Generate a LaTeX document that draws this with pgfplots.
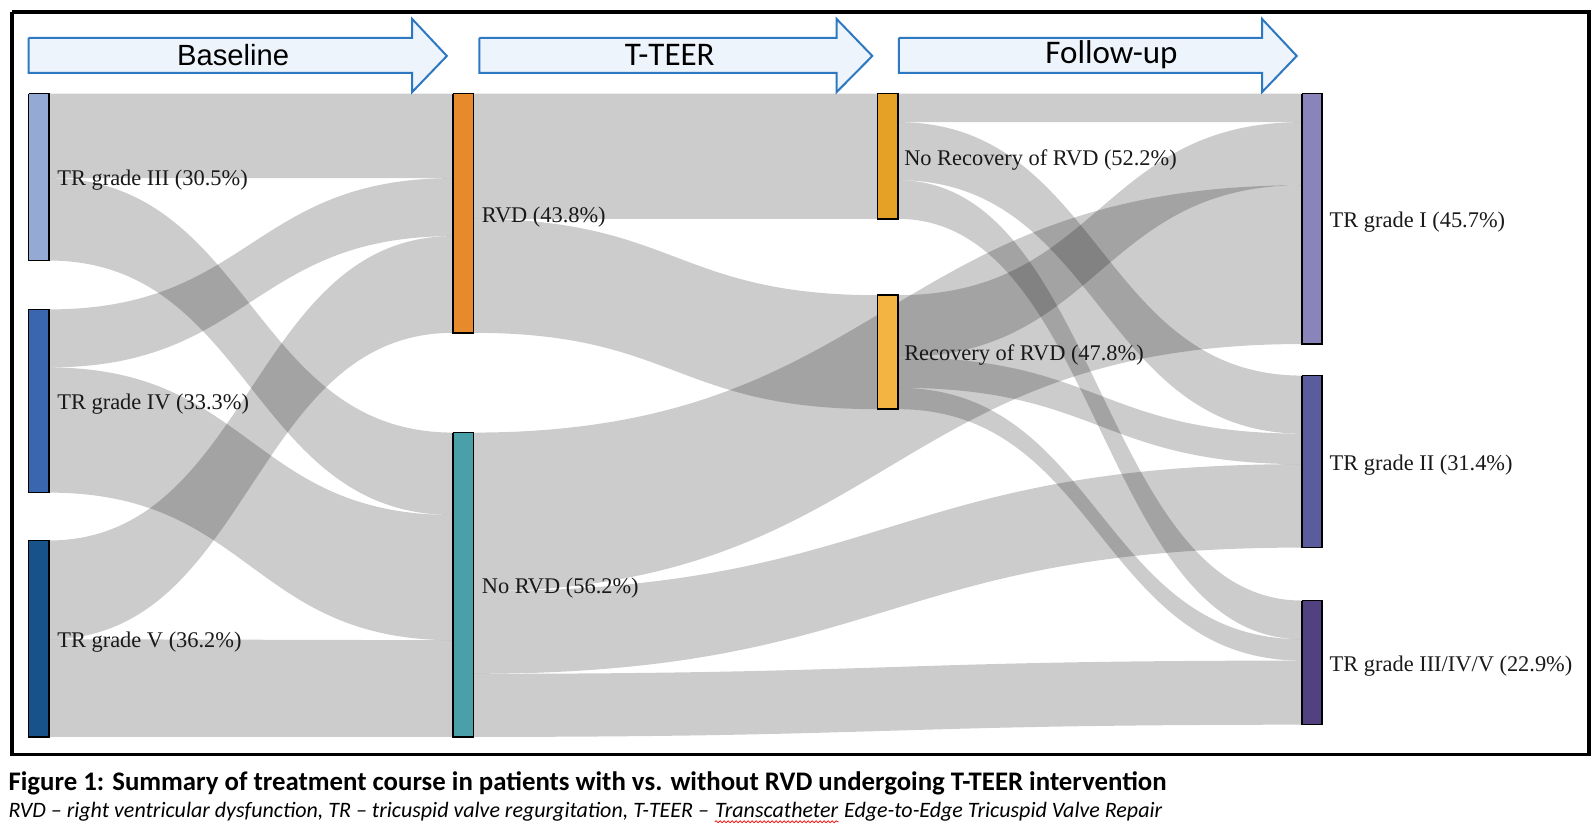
\documentclass[border=0pt]{standalone}
\usepackage{pgfplots}
\pgfplotsset{compat=1.18}
\usetikzlibrary{decorations.pathmorphing}
\usepackage{fontspec}
\setmainfont{Liberation Serif}
\newfontfamily\carlito{Carlito}
\newfontfamily\arial{Liberation Sans}
\definecolor{cIII}{HTML}{94A9D4}
\definecolor{cIV}{HTML}{3A66AF}
\definecolor{cV}{HTML}{17528B}
\definecolor{cRVD}{HTML}{E78A2C}
\definecolor{cNoRVD}{HTML}{4AA0A9}
\definecolor{cNoRec}{HTML}{E4A125}
\definecolor{cRec}{HTML}{F3B441}
\definecolor{cTI}{HTML}{8985BA}
\definecolor{cTII}{HTML}{5A5C9E}
\definecolor{cTIII}{HTML}{524180}
\definecolor{arrfill}{HTML}{EDF4FC}
\definecolor{arrline}{HTML}{2E78C2}
% flow: x0, a0, a1, x1, b0, b1, xmid
\newcommand\flow[7]{\fill[black,fill opacity=0.2] (axis cs:#1,#2) .. controls (axis cs:#7,#2) and (axis cs:#7,#5) .. (axis cs:#4,#5) -- (axis cs:#4,#6) .. controls (axis cs:#7,#6) and (axis cs:#7,#3) .. (axis cs:#1,#3) -- cycle;}
% node box: x0, x1, y0, y1, colour
\newcommand\nodebox[5]{\addplot[fill=#5, draw=black, line width=0.75pt, forget plot] coordinates {(#1,#3) (#2,#3) (#2,#4) (#1,#4) (#1,#3)};}
% arrow: left, head base, tip
\newcommand\arrowshape[3]{\addplot[fill=arrfill, draw=arrline, line width=1pt, line join=miter, forget plot] coordinates {(#1,37.3) (#2,37.3) (#2,18.7) (#3,55) (#2,90.4) (#2,71.7) (#1,71.7) (#1,37.3)};}
\begin{document}
\begin{tikzpicture}
\begin{axis}[scale only axis, width=798pt, height=413.25pt,
  xmin=0, xmax=1568, ymin=0, ymax=812, y dir=reverse, hide axis, clip=false]
% background
\addplot[fill=white, draw=none, forget plot] coordinates {(0,0) (1568,0) (1568,812) (0,812) (0,0)};
% frame
\addplot[draw=black, line width=1.7pt, forget plot] coordinates {(11.8,11.8) (1561,11.8) (1561,741) (11.8,741) (11.8,11.8)};
% arrows
\arrowshape{28}{405}{439}
\arrowshape{471}{822}{857}
\arrowshape{883}{1240}{1274}
\node[font=\arial\fontsize{14.6}{16}\selectfont] at (axis cs:229,54) {Baseline};
\node[font=\carlito\fontsize{16.5}{18}\selectfont] at (axis cs:658,54) {T-TEER};
\node[font=\carlito\fontsize{16.5}{18}\selectfont] at (axis cs:1092,54) {Follow-up};
% flows column 1 -> 2
\flow{48}{92}{175}{445}{92}{175}{246.5}
\flow{48}{175}{256}{445}{425}{506}{246.5}
\flow{48}{304}{361}{445}{175}{232}{246.5}
\flow{48}{361}{484}{445}{506}{629}{246.5}
\flow{48}{531}{628}{445}{232}{327}{246.5}
\flow{48}{628}{724}{445}{629}{724}{246.5}
% column 2 -> 3
\flow{465}{92}{215}{862}{92}{215}{663.5}
\flow{465}{215}{327}{862}{290}{402}{663.5}
% column 3 -> 4
\flow{882}{92}{120}{1279}{92}{120}{1080.5}
\flow{882}{120}{177}{1279}{369}{426}{1080.5}
\flow{882}{177}{215}{1279}{590}{628}{1080.5}
\flow{882}{290}{351}{1279}{120}{182}{1080.5}
\flow{882}{351}{381}{1279}{426}{456}{1080.5}
\flow{882}{381}{402}{1279}{628}{649}{1080.5}
% column 2 -> 4
\flow{465}{425}{581}{1279}{182}{338}{872}
\flow{465}{581}{662}{1279}{456}{538}{872}
\flow{465}{662}{724}{1279}{649}{712}{872}
% nodes
\nodebox{28}{48}{92}{256}{cIII}
\nodebox{28}{48}{304}{484}{cIV}
\nodebox{28}{48}{531}{724}{cV}
\nodebox{445}{465}{92}{327}{cRVD}
\nodebox{445}{465}{425}{724}{cNoRVD}
\nodebox{862}{882}{92}{215}{cNoRec}
\nodebox{862}{882}{290}{402}{cRec}
\nodebox{1279}{1299}{92}{338}{cTI}
\nodebox{1279}{1299}{369}{538}{cTII}
\nodebox{1279}{1299}{590}{712}{cTIII}
% labels
\begin{scope}[every node/.style={anchor=west, inner sep=0pt, font=\fontsize{11.2}{13}\selectfont, text=black!90}]
\node at (axis cs:56,177) {TR grade III (30.5\%)};
\node at (axis cs:56,397) {TR grade IV (33.3\%)};
\node at (axis cs:56,631) {TR grade V (36.2\%)};
\node at (axis cs:473,213) {RVD (43.8\%)};
\node at (axis cs:473,578) {No RVD (56.2\%)};
\node at (axis cs:888,157) {No Recovery of RVD (52.2\%)};
\node at (axis cs:888,349) {Recovery of RVD (47.8\%)};
\node at (axis cs:1306,218) {TR grade I (45.7\%)};
\node at (axis cs:1306,457) {TR grade II (31.4\%)};
\node at (axis cs:1306,654) {TR grade III/IV/V (22.9\%)};
\end{scope}
% caption
\node[anchor=base west, inner sep=0pt, font=\carlito\bfseries\fontsize{13.4}{15}\selectfont] at (axis cs:8,777) {Figure 1: Summary of treatment course in patients with vs. without RVD undergoing T-TEER intervention};
\begin{scope}[every node/.style={anchor=base west, inner sep=0pt, font=\carlito\itshape\fontsize{11}{12}\selectfont}]
\node (c1) at (axis cs:8,803) {RVD – right ventricular dysfunction, TR – tricuspid valve regurgitation, T-TEER –};
\node (c2) at ([xshift=2.6pt]c1.base east) {Transcatheter};
\node (c3) at ([xshift=2.6pt]c2.base east) {Edge-to-Edge Tricuspid Valve Repair};
\end{scope}
\draw[red, line width=0.35pt, decorate, decoration={snake, amplitude=0.5pt, segment length=2pt}] ([yshift=-2.2pt]c2.base west) -- ([yshift=-2.2pt]c2.base east);
\end{axis}
\end{tikzpicture}
\end{document}
